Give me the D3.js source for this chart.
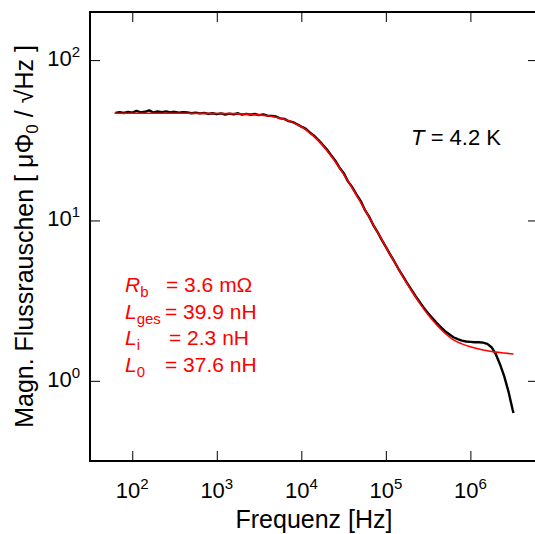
<!DOCTYPE html>
<html>
<head>
<meta charset="utf-8">
<script src="https://cdn.jsdelivr.net/npm/d3@7"></script>
<style>
body { margin: 0; background: #fff; }
svg { display: block; font-family: "Liberation Sans", Arial, sans-serif; }
</style>
</head>
<body>
<div id="chart"></div>
<script>
// measured spectrum (black), log10 of frequency in Hz -> noise in uPhi0/sqrt(Hz)
const measLogF = [1.80,1.85,1.90,1.95,2.00,2.05,2.10,2.15,2.20,2.25,2.30,2.35,2.40,2.45,2.50,2.55,2.60,2.65,2.70,2.75,
  2.80,2.85,2.90,2.95,3.00,3.05,3.10,3.15,3.20,3.25,3.30,3.35,3.40,3.45,3.50,3.55,3.60,3.65,3.70,3.75,
  3.80,3.85,3.90,3.95,4.00,4.05,4.10,4.15,4.20,4.25,4.30,4.35,4.40,4.45,4.50,4.55,4.60,4.65,4.70,4.75,
  4.80,4.85,4.90,4.95,5.00,5.05,5.10,5.15,5.20,5.25,5.30,5.35,5.40,5.45,5.50,5.55,5.60,5.65,5.70,5.75,
  5.80,5.85,5.90,5.95,6.00,6.05,6.10,6.15,6.20,6.25,6.30,6.35,6.40,6.45,6.50,6.51];
const measVal = [46.9,47.3,46.8,47.5,47.0,48.2,47.2,47.6,48.6,47.1,47.8,47.4,47.9,47.2,47.6,47.0,47.4,47.1,46.6,47.0,
  46.5,46.9,46.2,46.6,46.0,46.5,45.8,46.4,45.9,46.6,45.7,46.2,45.6,46.1,45.4,45.9,45.0,44.9,44.5,43.3,
  43.0,41.6,41.0,39.8,38.5,37.4,35.4,33.8,31.8,29.8,27.8,25.6,23.7,21.4,19.8,17.6,16.2,14.6,13.3,11.7,
  10.6,9.4,8.5,7.6,6.85,6.15,5.55,4.98,4.52,4.08,3.72,3.38,3.10,2.85,2.64,2.46,2.30,2.16,2.04,1.95,
  1.87,1.82,1.78,1.76,1.75,1.74,1.74,1.73,1.70,1.62,1.47,1.27,1.07,0.86,0.66,0.63];

// fit curve (red)
const fitLogF = [1.79,2.0,2.2,2.4,2.6,2.8,3.0,3.2,3.4,3.5,3.6,3.7,3.8,3.9,4.0,4.1,4.2,4.3,4.4,4.5,
  4.6,4.7,4.8,4.9,5.0,5.1,5.2,5.3,5.4,5.5,5.6,5.7,5.8,5.9,6.0,6.1,6.2,6.3,6.4,6.51];
const fitVal = [46.6,46.6,46.6,46.6,46.6,46.55,46.5,46.35,45.94,45.55,44.96,44.06,42.75,40.89,38.38,35.21,31.47,27.42,23.33,19.46,
  15.99,13.02,10.53,8.49,6.84,5.52,4.48,3.67,3.05,2.58,2.24,1.98,1.80,1.70,1.63,1.58,1.54,1.51,1.49,1.47];

const xTickVals = [1e2, 1e3, 1e4, 1e5, 1e6];
const yTickVals = [1e0, 1e1, 1e2];

const fitSym = ["R", "L", "L", "L"];
const fitSub = ["b", "ges", "i", "0"];
const fitTxt = ["= 3.6 mΩ", "= 39.9 nH", "= 2.3 nH", "= 37.6 nH"];

const W = 535, H = 534;
const pl = 90, pr = 538, pt = 12, pb = 461;

const x = d3.scaleLog().domain([Math.pow(10, 1.5), Math.pow(10, 6.8)]).range([pl, pr]);
const y = d3.scaleLog().domain([Math.pow(10, -0.5), Math.pow(10, 2.3)]).range([pb, pt]);

const svg = d3.select('#chart').append('svg').attr('width', W).attr('height', H);

svg.append('defs').append('clipPath').attr('id', 'clip')
  .append('rect').attr('x', pl).attr('y', pt).attr('width', pr - pl).attr('height', pb - pt);

// inward ticks on all four sides
const tickStyle = g => {
  g.select('.domain').remove();
  g.selectAll('.tick line').attr('stroke', '#000').attr('stroke-width', 1);
};
svg.append('g').attr('transform', 'translate(0,' + pb + ')')
  .call(d3.axisBottom(x).tickValues(xTickVals).tickSize(-10).tickFormat('')).call(tickStyle);
svg.append('g').attr('transform', 'translate(0,' + pt + ')')
  .call(d3.axisTop(x).tickValues(xTickVals).tickSize(-10).tickFormat('')).call(tickStyle);
svg.append('g').attr('transform', 'translate(' + pl + ',0)')
  .call(d3.axisLeft(y).tickValues(yTickVals).tickSize(-10).tickFormat('')).call(tickStyle);
svg.append('g').attr('transform', 'translate(' + pr + ',0)')
  .call(d3.axisRight(y).tickValues(yTickVals).tickSize(-10).tickFormat('')).call(tickStyle);

// tick labels as 10^n
const xl = svg.selectAll('.xlab').data(xTickVals).enter().append('text')
  .attr('class', 'xlab')
  .attr('x', d => x(d)).attr('y', 498)
  .attr('text-anchor', 'middle').style('font-size', '22px');
xl.append('tspan').text('10');
xl.append('tspan').attr('dy', -9).style('font-size', '15px').text(d => Math.round(Math.log10(d)));

const yl = svg.selectAll('.ylab').data(yTickVals).enter().append('text')
  .attr('class', 'ylab')
  .attr('x', 80).attr('y', d => y(d) + 6)
  .attr('text-anchor', 'end').style('font-size', '22px');
yl.append('tspan').text('10');
yl.append('tspan').attr('dy', -9).style('font-size', '15px').text(d => Math.round(Math.log10(d)));

// curves
const meas = measLogF.map((f, i) => [Math.pow(10, f), measVal[i]]);
const fit = fitLogF.map((f, i) => [Math.pow(10, f), fitVal[i]]);

const plot = svg.append('g').attr('clip-path', 'url(#clip)');
plot.append('path').datum(meas)
  .attr('d', d3.line().x(d => x(d[0])).y(d => y(d[1])))
  .attr('fill', 'none').attr('stroke', '#000').attr('stroke-width', 2.4).attr('stroke-linejoin', 'round');
plot.append('path').datum(fit)
  .attr('d', d3.line().curve(d3.curveMonotoneX).x(d => x(d[0])).y(d => y(d[1])))
  .attr('fill', 'none').attr('stroke', '#ff0000').attr('stroke-width', 1.6);

// frame
svg.append('rect').attr('x', pl).attr('y', pt).attr('width', pr - pl).attr('height', pb - pt)
  .attr('fill', 'none').attr('stroke', '#000').attr('stroke-width', 2);

// axis labels
svg.append('text').attr('x', (pl + pr) / 2).attr('y', 528)
  .attr('text-anchor', 'middle').style('font-size', '25px').text('Frequenz [Hz]');

const yt = svg.append('text').attr('transform', 'translate(33,' + ((pt + pb) / 2) + ') rotate(-90)')
  .attr('text-anchor', 'middle').style('font-size', '25px');
yt.append('tspan').text('Magn. Flussrauschen [ μΦ');
yt.append('tspan').attr('dy', 5).style('font-size', '17px').text('0');
yt.append('tspan').attr('dy', -5).text(' / √Hz ]');

// temperature
const tt = svg.append('text').attr('x', 501).attr('y', 145).attr('text-anchor', 'end').style('font-size', '22px');
tt.append('tspan').style('font-style', 'italic').text('T');
tt.append('tspan').text(' = 4.2 K');

// fit parameters
const eqX = [166, 165, 169, 165];
fitSym.forEach((s, i) => {
  const by = 292 + i * 26.7;
  const t = svg.append('text').attr('x', 125).attr('y', by).attr('fill', '#ff0000').style('font-size', '21px');
  t.append('tspan').style('font-style', 'italic').text(s);
  t.append('tspan').attr('dy', 5).style('font-size', '15px').text(fitSub[i]);
  svg.append('text').attr('x', eqX[i]).attr('y', by).attr('fill', '#ff0000').style('font-size', '21px').text(fitTxt[i]);
});
</script>
</body>
</html>
